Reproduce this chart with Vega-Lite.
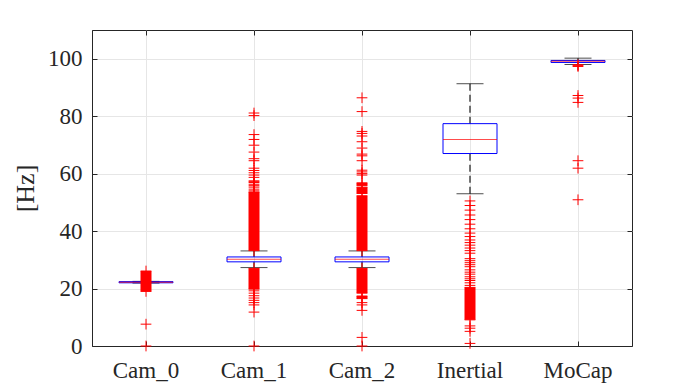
{
  "$schema": "https://vega.github.io/schema/vega-lite/v6.json",
  "width": 540,
  "height": 316,
  "autosize": {"type": "none"},
  "padding": {"left": 92, "top": 30, "right": 68, "bottom": 43},
  "background": "white",
  "config": {
    "view": {"stroke": "#262626", "strokeWidth": 1},
    "axis": {
      "labelFont": "Liberation Serif",
      "labelFontSize": 23,
      "labelColor": "#262626",
      "titleFont": "Liberation Serif",
      "titleFontSize": 26,
      "titleFontWeight": "normal",
      "titleColor": "#262626",
      "domainColor": "#262626",
      "tickColor": "#262626",
      "gridColor": "#e6e6e6",
      "gridWidth": 1
    }
  },
  "datasets": {
    "boxes": [
      {"cat": "Cam_0", "lo": 21.9, "q1": 22.0, "med": 22.2, "q3": 22.4, "hi": 22.5},
      {"cat": "Cam_1", "lo": 27.3, "q1": 29.3, "med": 30.2, "q3": 31.0, "hi": 33.1},
      {"cat": "Cam_2", "lo": 27.3, "q1": 29.3, "med": 30.2, "q3": 31.0, "hi": 33.1},
      {"cat": "Inertial", "lo": 53.0, "q1": 67.0, "med": 71.9, "q3": 77.4, "hi": 91.3},
      {"cat": "MoCap", "lo": 98.0, "q1": 98.7, "med": 99.1, "q3": 99.4, "hi": 100.2}
    ],
    "dense": [
      {"cat": "Cam_0", "from": 19.0, "to": 26.1},
      {"cat": "Cam_1", "from": 33.2, "to": 53.6},
      {"cat": "Cam_1", "from": 19.8, "to": 27.0},
      {"cat": "Cam_2", "from": 55.9, "to": 56.8},
      {"cat": "Cam_2", "from": 53.1, "to": 55.3},
      {"cat": "Cam_2", "from": 33.2, "to": 52.3},
      {"cat": "Cam_2", "from": 18.4, "to": 27.0},
      {"cat": "Cam_2", "from": 16.5, "to": 17.4},
      {"cat": "Inertial", "from": 9.1, "to": 20.4}
    ],
    "out": [
      {"cat": "Cam_0", "v": 26.1}, {"cat": "Cam_0", "v": 19.0}, {"cat": "Cam_0", "v": 7.6}, {"cat": "Cam_0", "v": 0},
      {"cat": "Cam_1", "v": 81.1}, {"cat": "Cam_1", "v": 80.2}, {"cat": "Cam_1", "v": 73.6}, {"cat": "Cam_1", "v": 71.9},
      {"cat": "Cam_1", "v": 69.9}, {"cat": "Cam_1", "v": 67.5}, {"cat": "Cam_1", "v": 65.2}, {"cat": "Cam_1", "v": 64.5},
      {"cat": "Cam_1", "v": 61.9}, {"cat": "Cam_1", "v": 61.1}, {"cat": "Cam_1", "v": 60.3}, {"cat": "Cam_1", "v": 59.5},
      {"cat": "Cam_1", "v": 58.7}, {"cat": "Cam_1", "v": 57.5}, {"cat": "Cam_1", "v": 57.2}, {"cat": "Cam_1", "v": 56.9},
      {"cat": "Cam_1", "v": 56.3}, {"cat": "Cam_1", "v": 55.8}, {"cat": "Cam_1", "v": 55.3}, {"cat": "Cam_1", "v": 54.6},
      {"cat": "Cam_1", "v": 54.0}, {"cat": "Cam_1", "v": 53.6}, {"cat": "Cam_1", "v": 33.2}, {"cat": "Cam_1", "v": 27.0},
      {"cat": "Cam_1", "v": 19.8}, {"cat": "Cam_1", "v": 19.2}, {"cat": "Cam_1", "v": 18.4}, {"cat": "Cam_1", "v": 17.5},
      {"cat": "Cam_1", "v": 16.7}, {"cat": "Cam_1", "v": 15.9}, {"cat": "Cam_1", "v": 15.1}, {"cat": "Cam_1", "v": 14.3},
      {"cat": "Cam_1", "v": 11.8}, {"cat": "Cam_1", "v": 0},
      {"cat": "Cam_2", "v": 86.4}, {"cat": "Cam_2", "v": 81.6}, {"cat": "Cam_2", "v": 74.7}, {"cat": "Cam_2", "v": 74.0},
      {"cat": "Cam_2", "v": 73.1}, {"cat": "Cam_2", "v": 71.1}, {"cat": "Cam_2", "v": 68.9}, {"cat": "Cam_2", "v": 66.8},
      {"cat": "Cam_2", "v": 66.2}, {"cat": "Cam_2", "v": 64.5}, {"cat": "Cam_2", "v": 61.2}, {"cat": "Cam_2", "v": 60.6},
      {"cat": "Cam_2", "v": 60.0}, {"cat": "Cam_2", "v": 59.5}, {"cat": "Cam_2", "v": 56.8}, {"cat": "Cam_2", "v": 55.9},
      {"cat": "Cam_2", "v": 55.3}, {"cat": "Cam_2", "v": 53.1}, {"cat": "Cam_2", "v": 52.3}, {"cat": "Cam_2", "v": 33.2},
      {"cat": "Cam_2", "v": 27.0}, {"cat": "Cam_2", "v": 18.4}, {"cat": "Cam_2", "v": 17.4}, {"cat": "Cam_2", "v": 16.5},
      {"cat": "Cam_2", "v": 15.1}, {"cat": "Cam_2", "v": 14.3}, {"cat": "Cam_2", "v": 12.4}, {"cat": "Cam_2", "v": 3.0},
      {"cat": "Cam_2", "v": 0},
      {"cat": "Inertial", "v": 50.5}, {"cat": "Inertial", "v": 48.9}, {"cat": "Inertial", "v": 47.3}, {"cat": "Inertial", "v": 45.6},
      {"cat": "Inertial", "v": 44.0}, {"cat": "Inertial", "v": 42.4}, {"cat": "Inertial", "v": 40.8}, {"cat": "Inertial", "v": 39.3},
      {"cat": "Inertial", "v": 38.1}, {"cat": "Inertial", "v": 36.9}, {"cat": "Inertial", "v": 36.0}, {"cat": "Inertial", "v": 35.1},
      {"cat": "Inertial", "v": 34.1}, {"cat": "Inertial", "v": 33.2}, {"cat": "Inertial", "v": 32.3}, {"cat": "Inertial", "v": 30.4},
      {"cat": "Inertial", "v": 29.7}, {"cat": "Inertial", "v": 29.0}, {"cat": "Inertial", "v": 28.3}, {"cat": "Inertial", "v": 27.6},
      {"cat": "Inertial", "v": 26.5}, {"cat": "Inertial", "v": 25.7}, {"cat": "Inertial", "v": 25.0}, {"cat": "Inertial", "v": 24.1},
      {"cat": "Inertial", "v": 23.4}, {"cat": "Inertial", "v": 22.8}, {"cat": "Inertial", "v": 22.0}, {"cat": "Inertial", "v": 21.1},
      {"cat": "Inertial", "v": 20.4}, {"cat": "Inertial", "v": 9.1}, {"cat": "Inertial", "v": 7.0}, {"cat": "Inertial", "v": 6.2},
      {"cat": "Inertial", "v": 5.1}, {"cat": "Inertial", "v": 0.9},
      {"cat": "MoCap", "v": 97.9}, {"cat": "MoCap", "v": 97.6}, {"cat": "MoCap", "v": 97.3}, {"cat": "MoCap", "v": 87.2},
      {"cat": "MoCap", "v": 86.3}, {"cat": "MoCap", "v": 84.8}, {"cat": "MoCap", "v": 64.5}, {"cat": "MoCap", "v": 61.9},
      {"cat": "MoCap", "v": 50.9}
    ]
  },
  "resolve": {"axis": {"x": "independent", "y": "independent"}},
  "layer": [
    {
      "data": {"name": "boxes"},
      "mark": {"type": "rule", "color": "#1a1a1a", "strokeDash": [7, 4], "strokeWidth": 1.2},
      "encoding": {
        "x": {
          "field": "cat", "type": "nominal", "sort": null,
          "scale": {"type": "band", "domain": ["Cam_0", "Cam_1", "Cam_2", "Inertial", "MoCap"], "paddingInner": 0, "paddingOuter": 0},
          "axis": {"orient": "bottom", "title": null, "labelAngle": 0, "bandPosition": 0.5, "grid": true, "tickSize": -5, "labelPadding": 18, "labelBaseline": "top"}
        },
        "y": {
          "field": "lo", "type": "quantitative",
          "scale": {"domain": [0, 110], "nice": false, "zero": true},
          "axis": {"orient": "left", "title": "[Hz]", "values": [0, 20, 40, 60, 80, 100], "grid": true, "tickSize": -5, "labelPadding": 15, "titlePadding": 9}
        },
        "y2": {"field": "q1"}
      }
    },
    {
      "data": {"name": "boxes"},
      "mark": {"type": "rule", "color": "#1a1a1a", "strokeDash": [7, 4], "strokeWidth": 1.2},
      "encoding": {
        "x": {"field": "cat", "type": "nominal", "sort": null,
          "axis": {"orient": "top", "title": null, "labels": false, "bandPosition": 0.5, "grid": false, "domain": false, "tickSize": -5}},
        "y": {"field": "q3", "type": "quantitative",
          "axis": {"orient": "right", "title": null, "labels": false, "values": [0, 20, 40, 60, 80, 100], "grid": false, "domain": false, "tickSize": -5}},
        "y2": {"field": "hi"}
      }
    },
    {
      "data": {"name": "boxes"},
      "mark": {"type": "tick", "color": "#000000", "size": 27, "thickness": 1},
      "encoding": {
        "x": {"field": "cat", "type": "nominal", "sort": null, "axis": null},
        "y": {"field": "lo", "type": "quantitative", "axis": null}
      }
    },
    {
      "data": {"name": "boxes"},
      "mark": {"type": "tick", "color": "#000000", "size": 27, "thickness": 1},
      "encoding": {
        "x": {"field": "cat", "type": "nominal", "sort": null, "axis": null},
        "y": {"field": "hi", "type": "quantitative", "axis": null}
      }
    },
    {
      "data": {"name": "boxes"},
      "mark": {"type": "bar", "size": 54, "fill": "transparent", "stroke": "#0000ff", "strokeWidth": 1},
      "encoding": {
        "x": {"field": "cat", "type": "nominal", "sort": null, "axis": null},
        "y": {"field": "q1", "type": "quantitative", "axis": null},
        "y2": {"field": "q3"}
      }
    },
    {
      "data": {"name": "boxes"},
      "mark": {"type": "tick", "color": "#ff0000", "size": 54, "thickness": 1},
      "encoding": {
        "x": {"field": "cat", "type": "nominal", "sort": null, "axis": null},
        "y": {"field": "med", "type": "quantitative", "axis": null}
      }
    },
    {
      "data": {"name": "dense"},
      "mark": {"type": "bar", "size": 11, "color": "#ff0000"},
      "encoding": {
        "x": {"field": "cat", "type": "nominal", "sort": null, "axis": null},
        "y": {"field": "from", "type": "quantitative", "axis": null},
        "y2": {"field": "to"}
      }
    },
    {
      "data": {"name": "out"},
      "mark": {"type": "point", "shape": "M-1,0H1M0,-1V1", "size": 115, "filled": false, "stroke": "#ff0000", "strokeWidth": 1, "opacity": 1, "clip": false},
      "encoding": {
        "x": {"field": "cat", "type": "nominal", "sort": null, "axis": null},
        "y": {"field": "v", "type": "quantitative", "axis": null}
      }
    }
  ]
}
